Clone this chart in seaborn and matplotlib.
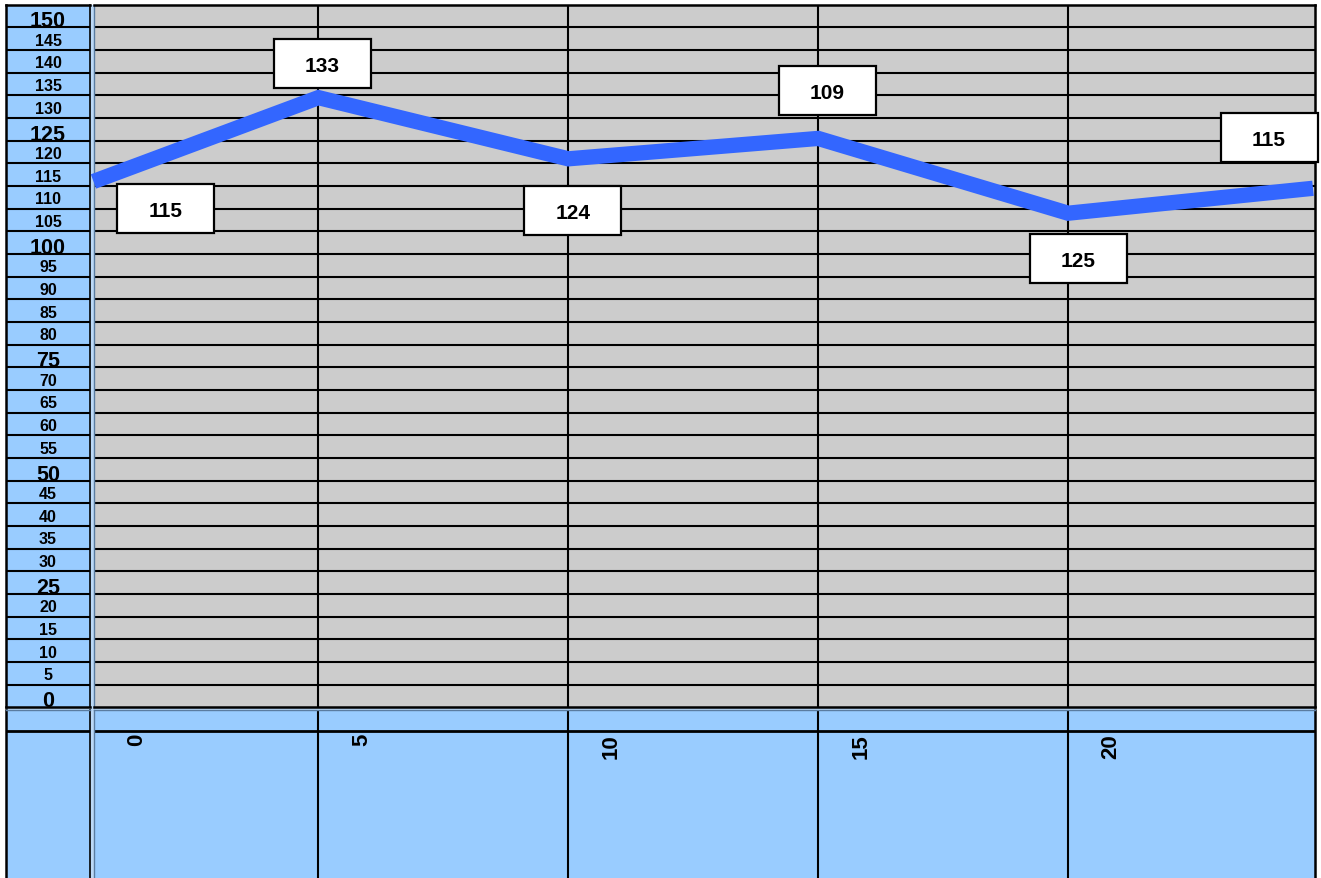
import numpy as np
import matplotlib
matplotlib.use("Agg")
import matplotlib.pyplot as plt
import matplotlib.transforms as mtransforms
from matplotlib.patches import Rectangle
import seaborn as sns

# values
x_vals = [0.5, 5, 10, 15, 20, 24.9]
y_vals = [113.5, 132, 118.5, 123, 106.5, 112]
point_labels = ["115", "133", "124", "109", "125", "115"]
x_tick_labels = ["0", "5", "10", "15", "20"]
y_tick_values = list(range(0, 155, 5))
big_ticks = [0, 25, 50, 75, 100, 125, 150]

# centre of each label box relative to its point, pixels (x right, y down)
box_offsets = [(72, 27), (4, -34), (4.5, 51.5), (9, -47.5), (10, 45.5), (-44, -51)]

sns.set_theme(style="white")
plt.rcParams["font.family"] = ["Liberation Sans", "DejaVu Sans"]

W, H = 1321, 879
fig = plt.figure(figsize=(W / 100, H / 100), dpi=100)
fig.patch.set_facecolor("white")

blue = "#99ccff"
gray = "#cccccc"
edge_blue = "#5a7ca0"


def frac(x0, y0, x1, y1):
    return [x0 / W, 1 - y1 / H, (x1 - x0) / W, (y1 - y0) / H]


# light fill showing through the gaps between panels
fig.add_artist(Rectangle((6 / W, 0), (1315 - 6) / W, 1 - 5.7 / H,
                         transform=fig.transFigure, facecolor="#bcd9f7",
                         edgecolor="none", zorder=0))

ax = fig.add_axes(frac(93.5, 5.7, 1315, 708.3))
ax_left = fig.add_axes(frac(6, 5.7, 90, 708.3), sharey=ax)
ax_bot = fig.add_axes(frac(93.5, 711, 1315, 882), sharex=ax)
ax_bl = fig.add_axes(frac(6, 711, 90, 882))
ax.set_zorder(3)

# main plot
ax.set_facecolor(gray)
ax.set_yticks(np.arange(2.5, 150, 5))
ax.set_xticks(x_vals[1:5])
ax.grid(True, color="black", lw=1.5)
ax.tick_params(length=0, labelleft=False, labelbottom=False)
for side in ["top", "right", "bottom"]:
    ax.spines[side].set_color("black")
    ax.spines[side].set_linewidth(1.8)
ax.spines["left"].set_color(edge_blue)
ax.spines["left"].set_linewidth(1.0)

sns.lineplot(x=x_vals, y=y_vals, ax=ax, color="#3366ff", lw=11,
             solid_capstyle="butt", solid_joinstyle="miter", clip_on=False, zorder=3)

for xv, yv, lab, (dx, dy) in zip(x_vals, y_vals, point_labels, box_offsets):
    tr = fig.dpi_scale_trans + mtransforms.ScaledTranslation(xv, yv, ax.transData)
    ax.add_patch(Rectangle(((dx - 48.5) / 100, -(dy + 24.5) / 100), 0.97, 0.49,
                           transform=tr, facecolor="white", edgecolor="black",
                           lw=1.6, zorder=4, clip_on=False))
    ax.text(dx / 100, -dy / 100, lab, transform=tr, ha="center", va="center_baseline",
            fontsize=15, fontweight="bold", color="black", zorder=5, clip_on=False)

# left tick column
ax_left.set_facecolor(blue)
ax_left.grid(True, axis="y", color="black", lw=1.5)
ax_left.set_xticks([])
ax_left.tick_params(length=0, labelleft=False, labelbottom=False)
for side in ax_left.spines:
    ax_left.spines[side].set_color("black")
    ax_left.spines[side].set_linewidth(1.8)
ax_left.spines["right"].set_linewidth(1.2)
ltr = mtransforms.blended_transform_factory(ax_left.transAxes, ax_left.transData)
for v in y_tick_values:
    big = v in big_ticks
    ax_left.text(0.5, v - (0.5 if big else 0), str(v), transform=ltr,
                 ha="center", va="center_baseline", fontweight="bold", color="black",
                 fontsize=15.5 if big else 11.5)

# bottom category strip
strip_line = (882 - 731.7) / (882 - 711)
ax_bot.set_facecolor(blue)
ax_bot.set_ylim(0, 1)
ax_bot.set_yticks([])
ax_bot.grid(True, axis="x", color="black", lw=1.5)
ax_bot.tick_params(length=0, labelleft=False, labelbottom=False)
ax_bot.axhline(strip_line, color="black", lw=2)
ax_bot.spines["top"].set_color(edge_blue)
ax_bot.spines["top"].set_linewidth(1)
ax_bot.spines["left"].set_color(edge_blue)
ax_bot.spines["left"].set_linewidth(1.0)
ax_bot.spines["right"].set_color("black")
ax_bot.spines["right"].set_linewidth(1.8)
ax_bot.spines["bottom"].set_visible(False)
btr = mtransforms.blended_transform_factory(ax_bot.transData, ax_bot.transAxes) + \
    mtransforms.ScaledTranslation(0.43, 0, fig.dpi_scale_trans)
top_frac = (882 - 734) / (882 - 711)
for xv, lab in zip(x_vals, x_tick_labels):
    ax_bot.text(xv, top_frac, lab, transform=btr, rotation=90, ha="center", va="top",
                fontsize=16, fontweight="bold", color="black")

ax_bl.set_facecolor(blue)
ax_bl.set_xticks([])
ax_bl.set_yticks([])
ax_bl.set_ylim(0, 1)
ax_bl.axhline(strip_line, color="black", lw=2)
ax_bl.spines["left"].set_color("black")
ax_bl.spines["left"].set_linewidth(1.8)
ax_bl.spines["right"].set_color("black")
ax_bl.spines["right"].set_linewidth(1.2)
ax_bl.spines["top"].set_color(edge_blue)
ax_bl.spines["top"].set_linewidth(1)
ax_bl.spines["bottom"].set_visible(False)

ax.set_xlim(0.5, 24.94)
ax.set_ylim(-2.5, 152.5)

fig.savefig("out.png", dpi=100)
plt.close(fig)
